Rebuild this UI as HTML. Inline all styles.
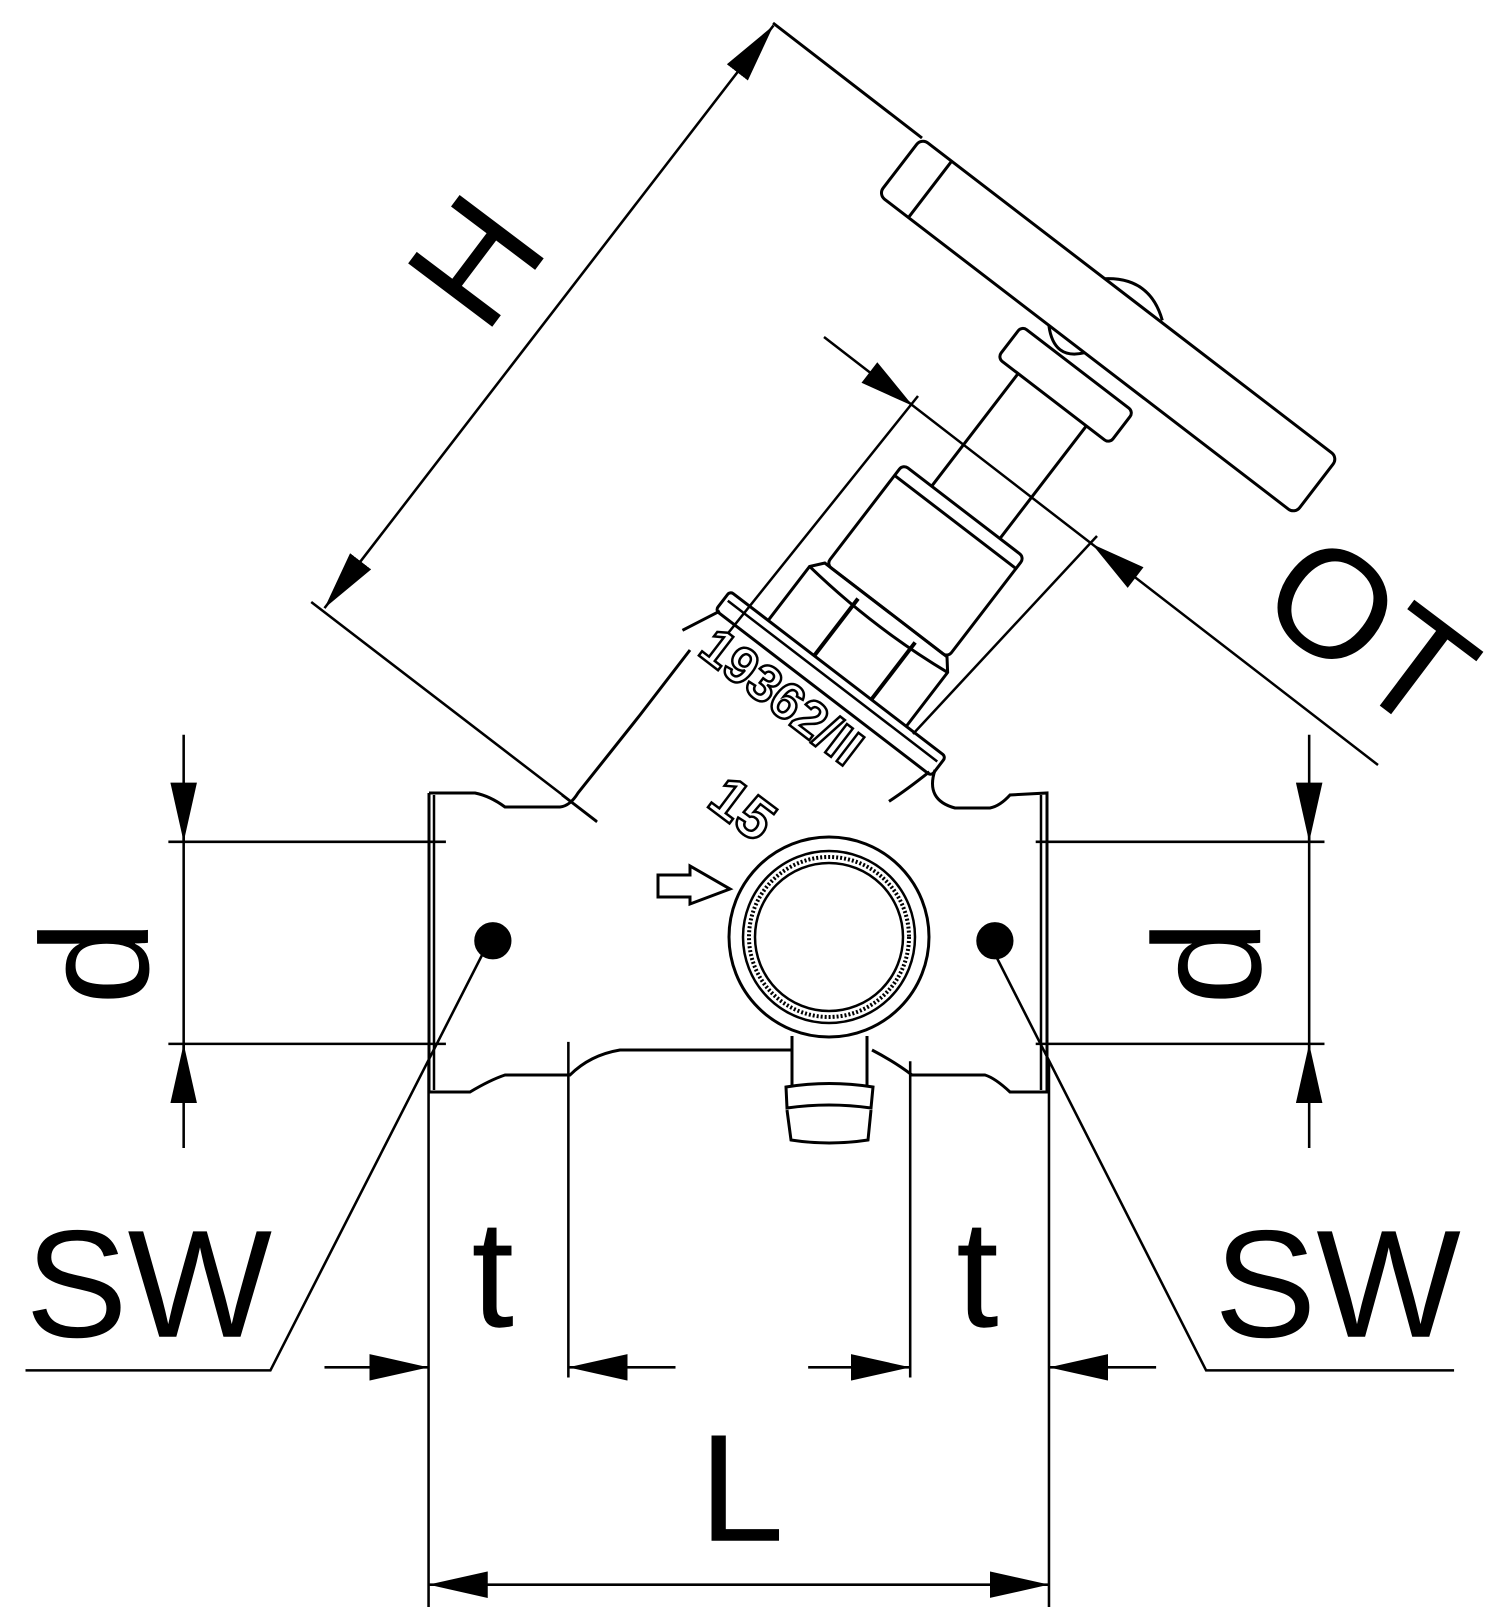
<!DOCTYPE html>
<html><head><meta charset="utf-8"><style>
html,body{margin:0;padding:0;background:#fff;}
svg{display:block;}
text{font-family:"Liberation Sans",sans-serif;fill:#000;}
</style></head><body>
<svg width="1500" height="1607" viewBox="0 0 1500 1607" xmlns="http://www.w3.org/2000/svg">
<defs>
<marker id="a" viewBox="0 0 10 10" refX="10" refY="5" markerWidth="58" markerHeight="26" markerUnits="userSpaceOnUse" orient="auto-start-reverse" preserveAspectRatio="none"><path d="M0,0 L10,5 L0,10 Z" fill="#000"/></marker>
</defs>
<g transform="scale(1.0204)" stroke="#000" stroke-width="2.5" fill="none">
<line x1="180" y1="720" x2="180" y2="1125"/>
<line x1="180" y1="770" x2="180" y2="825" marker-end="url(#a)"/>
<line x1="180" y1="1080" x2="180" y2="1023" marker-end="url(#a)"/>
<line x1="165" y1="825" x2="437" y2="825"/>
<line x1="165" y1="1023" x2="437" y2="1023"/>
<line x1="1283" y1="720" x2="1283" y2="1125"/>
<line x1="1283" y1="770" x2="1283" y2="825" marker-end="url(#a)"/>
<line x1="1283" y1="1080" x2="1283" y2="1023" marker-end="url(#a)"/>
<line x1="1015" y1="825" x2="1298" y2="825"/>
<line x1="1015" y1="1023" x2="1298" y2="1023"/>
<line x1="420" y1="1040" x2="420" y2="1585"/>
<line x1="557" y1="1021" x2="557" y2="1350"/>
<line x1="892" y1="1040" x2="892" y2="1350"/>
<line x1="1028" y1="1040" x2="1028" y2="1585"/>
<line x1="318" y1="1340" x2="420" y2="1340" marker-end="url(#a)"/>
<line x1="662" y1="1340" x2="557" y2="1340" marker-end="url(#a)"/>
<line x1="792" y1="1340" x2="892" y2="1340" marker-end="url(#a)"/>
<line x1="1133" y1="1340" x2="1028" y2="1340" marker-end="url(#a)"/>
<line x1="420" y1="1553" x2="1028" y2="1553" marker-start="url(#a)" marker-end="url(#a)"/>
<polyline points="478,925 265,1343 25,1343"/>
<polyline points="970,925 1182,1343 1425,1343"/>
<line x1="758" y1="25" x2="318" y2="596" marker-start="url(#a)" marker-end="url(#a)"/>
<line x1="305" y1="590" x2="585" y2="805"/>
<circle cx="483" cy="922" r="17" fill="#000"/>
<circle cx="975" cy="922" r="17" fill="#000"/>
</g>
<g stroke="#000" stroke-width="3" fill="none">
<line x1="773" y1="23" x2="922" y2="138"/>
<line x1="824" y1="337" x2="1378" y2="765" stroke-width="2.5"/>
<polygon points="913,406 861.5,382.8 877.3,362.2" fill="#000" stroke="none"/>
<polygon points="1092,544 1127.7,587.9 1143.5,567.3" fill="#000" stroke="none"/>
<line x1="721" y1="642" x2="918" y2="396" stroke-width="2.5"/>
<line x1="913" y1="734" x2="1097" y2="536" stroke-width="2.5"/>
<path d="M429,793 L475,793 Q490,796 505,807 L560,807 Q570,806 578,793 L640,715 L690,650"/>
<path d="M935,770 Q925,800 955,808 L990,808 Q1000,806 1010,795 L1047,793 L1047,1092 L1010,1092 Q995,1078 985,1075 L912,1075 Q895,1062 872,1050"/>
<path d="M429,793 L429,1092 L470,1092 Q490,1080 505,1075 L570,1075 Q590,1055 620,1050 L792,1050"/>
<line x1="434" y1="795" x2="434" y2="1090" stroke-width="2.5"/>
<line x1="1041" y1="795" x2="1041" y2="1090" stroke-width="2.5"/>
<line x1="562" y1="795" x2="597" y2="822" stroke-width="2.5"/>
<circle cx="829" cy="937" r="100"/>
<circle cx="829" cy="937" r="86" stroke-width="2.5"/>
<circle cx="829" cy="937" r="80" stroke-dasharray="2,2" stroke-width="4"/>
<circle cx="829" cy="937" r="74" stroke-width="2.5"/>
<path d="M792,1036 L792,1085 M867,1036 L867,1085"/>
<path d="M786,1087 Q829,1080 873,1087 L871,1108 Q829,1102 787,1108 Z"/>
<path d="M787,1110 L791,1140 Q829,1146 868,1140 L871,1110"/>
<path d="M658,875 L690,875 L690,866 L730,889 L690,904 L690,897 L658,897 Z" stroke-width="3"/>
<text font-size="58" font-weight="bold" transform="translate(705,805) rotate(37)" style="fill:#fff;stroke:#000;stroke-width:2.5">15</text>
<g transform="translate(838,674) rotate(37.5)">
<path d="M-132,22 L-150,60"/>
<path d="M132,22 Q125,50 118,70"/>
<rect x="-136" y="0" width="272" height="24" rx="4"/>
<line x1="-132" y1="9" x2="132" y2="9" stroke-width="2.5"/>
<text x="-125" y="70" font-size="52" font-weight="bold" style="fill:#fff;stroke:#000;stroke-width:2.5">19362/II</text>
<path d="M-88,0 L-88,-68 L-78,-80 L76,-80 L86,-68 L86,0"/>
<line x1="-30" y1="-72" x2="-30" y2="0" stroke-width="4"/>
<line x1="42" y1="-72" x2="42" y2="0" stroke-width="4"/>
<path d="M-88,-68 Q0,-58 86,-68"/>
<rect x="-76" y="-206" width="153" height="126" rx="6"/>
<line x1="-76" y1="-192" x2="77" y2="-192"/>
<line x1="-40" y1="-348" x2="-40" y2="-206"/>
<line x1="46" y1="-348" x2="46" y2="-206"/>
<rect x="-66" y="-388" width="141" height="40" rx="6"/>
<path d="M-45,-405 Q-20,-380 0,-405"/>
<path d="M-29,-476 Q6,-505 42,-478"/>
<rect x="-260" y="-476" width="525" height="71" rx="8"/>
<line x1="-222" y1="-476" x2="-222" y2="-405"/>
</g>
</g>
<g transform="scale(1.0204)">
<text font-size="150" transform="translate(145,985) rotate(-90)">d</text>
<text font-size="150" transform="translate(1235,985) rotate(-90)">d</text>
<text x="25" y="1310" font-size="150">SW</text>
<text x="1190" y="1310" font-size="150">SW</text>
<text x="462" y="1300" font-size="150">t</text>
<text x="937" y="1300" font-size="150">t</text>
<text x="685" y="1510" font-size="150">L</text>
<text font-size="150" transform="translate(475,330) rotate(-53)">H</text>
<text font-size="150" transform="translate(1228,598) rotate(37)">OT</text>
</g>
</svg>
</body></html>
